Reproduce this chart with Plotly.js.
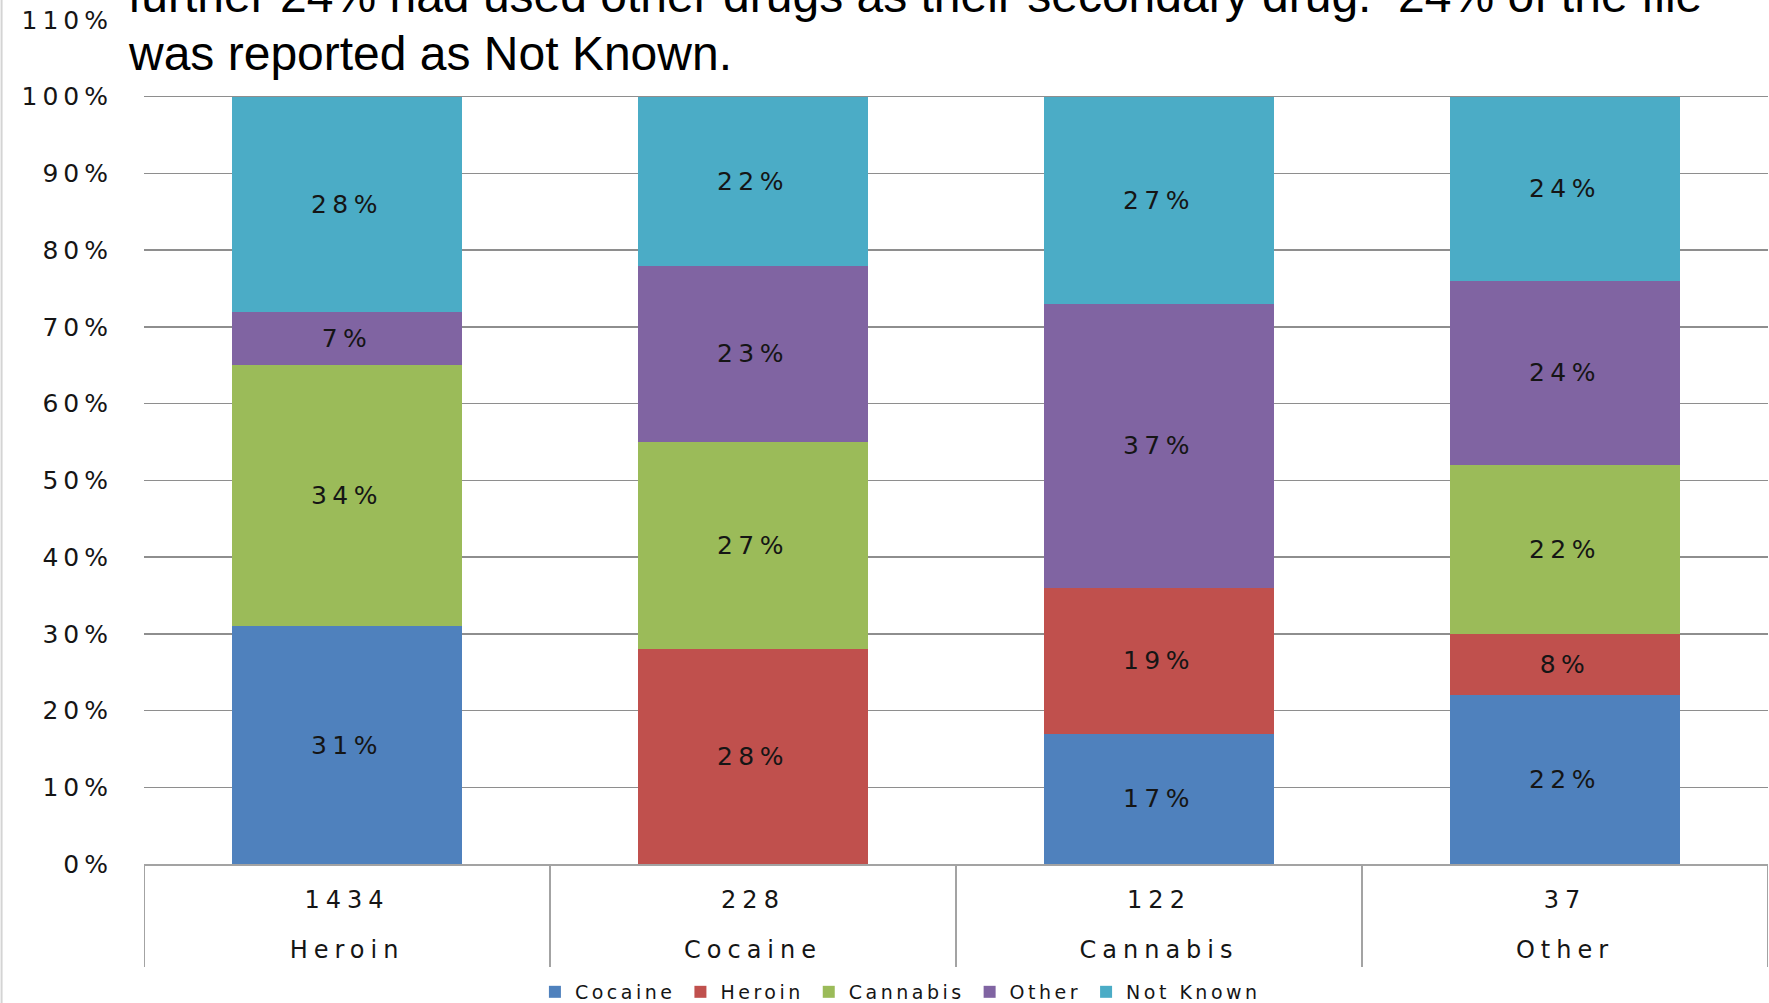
<!DOCTYPE html>
<html>
<head>
<meta charset="utf-8">
<script src="https://cdn.plot.ly/plotly-3.0.1.min.js"></script>
<style>
  html, body { margin: 0; padding: 0; background: #ffffff; }
  #chart { width: 1769px; height: 1003px; }
  g.ytick text { letter-spacing: 5px; }
  g.xtick text, g.x2tick text { letter-spacing: 6px; }
  text.bartext { letter-spacing: 5.5px; }
  text.legendtext { letter-spacing: 3.5px; }
</style>
</head>
<body>
<div id="chart"></div>
<script>
// ---- data ----
const categories = ['Heroin', 'Cocaine', 'Cannabis', 'Other'];
const counts = ['1434', '228', '122', '37'];
const seriesNames = ['Cocaine', 'Heroin', 'Cannabis', 'Other', 'Not Known'];
const cocaine  = [31, 0, 17, 22];
const heroin   = [0, 28, 19, 8];
const cannabis = [34, 27, 0, 22];
const other    = [7, 23, 37, 24];
const notKnown = [28, 22, 27, 24];
const yTicks = [0, 10, 20, 30, 40, 50, 60, 70, 80, 90, 100, 110];
const titleLine1 = 'further 24% had used other drugs as their secondary drug.  24% of the file';
const titleLine2 = 'was reported as Not Known.';

// ---- styles ----
const seriesColors = ['#4F81BD', '#C0504D', '#9BBB59', '#8064A2', '#4BACC6'];
const seriesValues = [cocaine, heroin, cannabis, other, notKnown];
const labelFont = 'DejaVu Sans, Verdana, sans-serif';
const textColor = '#151515';
const axisGray = '#a3a3a3';

const traces = seriesValues.map((vals, i) => ({
  type: 'bar',
  name: seriesNames[i],
  x: categories,
  y: vals,
  text: vals.map(v => (v ? v + '%' : '')),
  textposition: 'inside',
  insidetextanchor: 'middle',
  constraintext: 'none',
  textfont: { family: labelFont, size: 25, color: textColor },
  marker: { color: seriesColors[i], line: { width: 0 } },
  hoverinfo: 'skip',
  xaxis: 'x',
  yaxis: 'y'
}));

const idx = categories.map((c, i) => i);
// carrier trace so the second (category-name) axis level is drawn
traces.push({
  type: 'scatter', mode: 'markers',
  x: idx, y: idx.map(() => null),
  xaxis: 'x2', yaxis: 'y',
  showlegend: false, hoverinfo: 'skip'
});

const shapes = [];
// category dividers under the axis (Excel multi-level axis)
for (let i = 0; i <= categories.length; i++) {
  shapes.push({
    type: 'line', xref: 'x', yref: 'paper',
    x0: i - 0.5, x1: i - 0.5, y0: 0, y1: -0.122,
    line: { color: axisGray, width: 2 }
  });
}
// white band hiding the top (110%) gridline behind the text box
shapes.push({
  type: 'rect', xref: 'paper', yref: 'paper', layer: 'above',
  x0: -0.01, x1: 1.01, y0: 0.96, y1: 1.03,
  fillcolor: '#ffffff', line: { width: 0 }
});
// faint frame line at the far left
shapes.push({
  type: 'line', xref: 'paper', yref: 'paper',
  x0: -0.0877, x1: -0.0877, y0: -0.17, y1: 1.03,
  line: { color: '#d4d4d4', width: 2 }
});

const layout = {
  width: 1769,
  height: 1003,
  margin: { l: 144, r: 1, t: 20, b: 139, pad: 0 },
  paper_bgcolor: '#ffffff',
  plot_bgcolor: '#ffffff',
  font: { family: labelFont, color: textColor },
  barmode: 'stack',
  bargap: 0.434,
  showlegend: true,
  legend: {
    orientation: 'h',
    xref: 'container', yref: 'container',
    x: 0.509, xanchor: 'center',
    y: 0.011, yanchor: 'middle',
    traceorder: 'normal',
    font: { family: labelFont, size: 19, color: textColor },
    itemclick: false, itemdoubleclick: false
  },
  xaxis: {
    type: 'category',
    tickmode: 'array',
    tickvals: categories,
    ticktext: counts,
    range: [-0.5, categories.length - 0.5],
    showgrid: false,
    zeroline: false,
    showline: true,
    linecolor: axisGray,
    linewidth: 2,
    ticks: '',
    ticklabelstandoff: 13,
    tickfont: { family: labelFont, size: 24, color: textColor },
    fixedrange: true
  },
  xaxis2: {
    overlaying: 'x',
    anchor: 'y',
    side: 'bottom',
    type: 'linear',
    range: [-0.5, categories.length - 0.5],
    tickmode: 'array',
    tickvals: idx,
    ticktext: categories,
    showgrid: false,
    zeroline: false,
    showline: false,
    ticks: '',
    ticklabelstandoff: 69,
    tickfont: { family: labelFont, size: 24, color: textColor },
    fixedrange: true
  },
  yaxis: {
    range: [0, 110],
    tickmode: 'array',
    tickvals: yTicks,
    ticktext: yTicks.map(v => v + '%'),
    showgrid: true,
    gridcolor: '#8e8e8e',
    gridwidth: 1.5,
    zeroline: false,
    showline: false,
    ticks: '',
    ticklabelstandoff: 30,
    tickfont: { family: labelFont, size: 25, color: textColor },
    fixedrange: true
  },
  shapes: shapes,
  annotations: [
    {
      xref: 'paper', yref: 'paper', x: -0.0113, y: 0.9957,
      xanchor: 'left', yanchor: 'bottom', showarrow: false,
      text: titleLine1,
      font: { family: 'Liberation Sans, Arial, sans-serif', size: 48, color: '#000000' }
    },
    {
      xref: 'paper', yref: 'paper', x: -0.0113, y: 0.926,
      xanchor: 'left', yanchor: 'bottom', showarrow: false,
      text: titleLine2,
      font: { family: 'Liberation Sans, Arial, sans-serif', size: 48, color: '#000000' }
    }
  ]
};

Plotly.newPlot('chart', traces, layout, { displayModeBar: false, staticPlot: true });
</script>
</body>
</html>
